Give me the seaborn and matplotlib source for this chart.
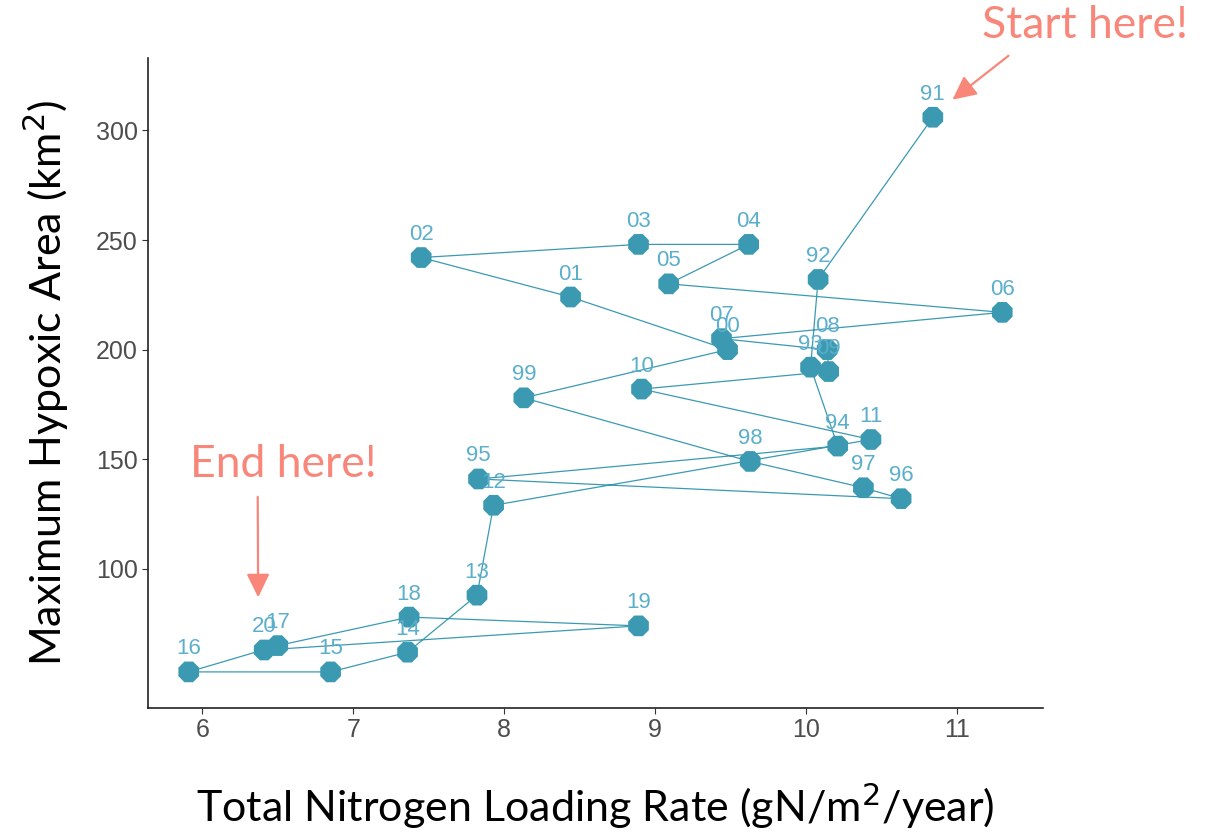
import matplotlib
matplotlib.use('Agg')
import matplotlib.pyplot as plt
import seaborn as sns
import pandas as pd

# year labels in chronological order (1991 -> 2020)
years = ['91', '92', '93', '94', '95', '96', '97', '98', '99', '00',
         '01', '02', '03', '04', '05', '06', '07', '08', '09', '10',
         '11', '12', '13', '14', '15', '16', '17', '18', '19', '20']
nitrogen = [10.84, 10.08, 10.03, 10.21, 7.83, 10.63, 10.38, 9.63, 8.13, 9.48,
            8.44, 7.45, 8.89, 9.62, 9.09, 11.30, 9.44, 10.14, 10.15, 8.91,
            10.43, 7.93, 7.82, 7.36, 6.85, 5.91, 6.50, 7.37, 8.89, 6.41]
hypoxic = [306, 232, 192, 156, 141, 132, 137, 149, 178, 200,
           224, 242, 248, 248, 230, 217, 205, 200, 190, 182,
           159, 129, 88, 62, 53, 53, 65, 78, 74, 63]

df = pd.DataFrame({'year': years, 'tn': nitrogen, 'area': hypoxic})

col = '#3B9AB2'
salmon = '#F8877A'

sns.set_style('white')
plt.rcParams['font.family'] = ['Liberation Sans', 'DejaVu Sans']

fig = plt.figure(figsize=(12.09, 8.35), dpi=100)
ax = fig.add_axes([0.1224, 0.152, 0.7403, 0.7785])

# path through the years, in order
sns.lineplot(data=df, x='tn', y='area', sort=False, estimator=None,
             color=col, lw=0.9, ax=ax)
sns.scatterplot(data=df, x='tn', y='area', color=col, marker='8', s=260,
                edgecolor='none', ax=ax, zorder=3)

for yr, x, y in zip(years, nitrogen, hypoxic):
    ax.annotate(yr, (x, y), xytext=(0, 9), textcoords='offset points',
                ha='center', va='bottom', fontsize=16, color='#5BAFCB')

ax.set_xlim(5.64, 11.57)
ax.set_ylim(36.5, 333)
ax.set_xticks([6, 7, 8, 9, 10, 11])
ax.set_yticks([100, 150, 200, 250, 300])
ax.tick_params(axis='both', labelsize=18, labelcolor='#4D4D4D', length=4,
               width=0.8, color='#333333', left=True, bottom=True)
for s in ['top', 'right']:
    ax.spines[s].set_visible(False)
for s in ['left', 'bottom']:
    ax.spines[s].set_color('#222222')
    ax.spines[s].set_linewidth(1.2)

ax.set_xlabel('Total Nitrogen Loading Rate (gN/m$^2$/year)', fontsize=31,
              family='Lato', labelpad=28, color='black')
ax.set_ylabel('Maximum Hypoxic Area (km$^2$)', fontsize=31,
              family='Lato', labelpad=18, color='black')

arrow = dict(arrowstyle='-|>,head_length=0.45,head_width=0.22',
             color=salmon, lw=1.6, shrinkB=0)
ax.annotate('Start here!', xy=(10.97, 314), xytext=(11.85, 348),
            ha='center', va='center', fontsize=32, color=salmon, family='Lato',
            annotation_clip=False,
            arrowprops=dict(arrow, shrinkA=8, relpos=(0.19, 0)))
ax.annotate('End here!', xy=(6.37, 87), xytext=(6.54, 147.5),
            ha='center', va='center', fontsize=32, color=salmon, family='Lato',
            arrowprops=dict(arrow, shrinkA=6, relpos=(0.36, 0)))

fig.savefig('out.png', dpi=100)
